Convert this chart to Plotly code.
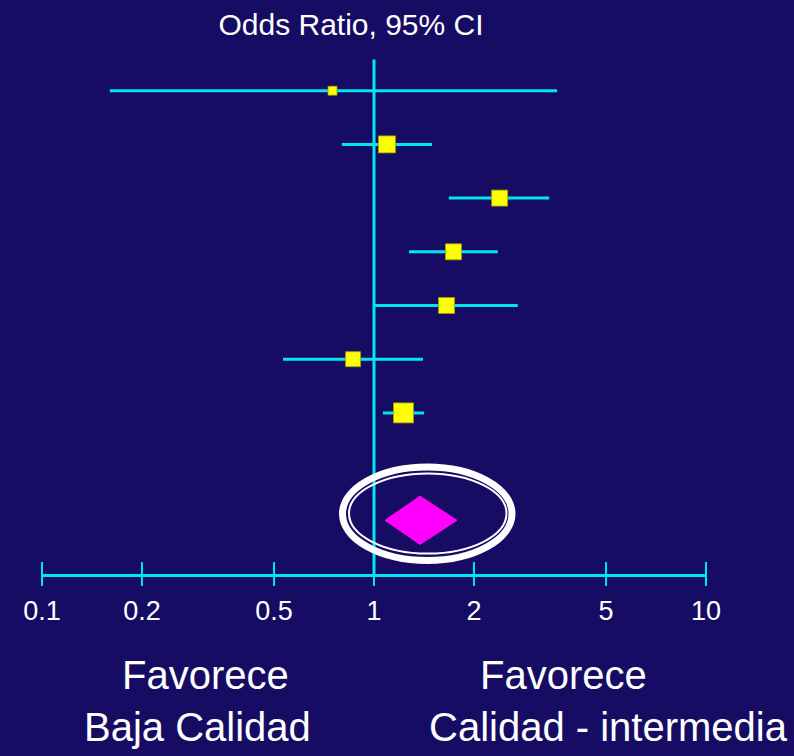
import plotly.graph_objects as go

# ---------------- data ----------------
rows = [1, 2, 3, 4, 5, 6, 7]
or_est = [0.75, 1.094, 2.39, 1.735, 1.654, 0.865, 1.227]
ci_low = [0.16, 0.80, 1.68, 1.275, 1.0, 0.532, 1.064]
ci_high = [3.56, 1.495, 3.37, 2.36, 2.71, 1.405, 1.414]
weights = [9, 17, 16, 16, 16, 15, 20]

pooled_row = 9
pooled_est = 1.376
pooled_low = 1.079
pooled_high = 1.778

tick_vals = [0.1, 0.2, 0.5, 1, 2, 5, 10]
tick_text = ["0.1", "0.2", "0.5", "1", "2", "5", "10"]

title_text = "Odds Ratio, 95% CI"
left_label = ["Favorece", "Baja Calidad"]
right_label = ["Favorece", "Calidad - intermedia"]

# ---------------- style ----------------
BG = "#170c64"
CYAN = "#00e6f0"
YELLOW = "#ffff00"
MAGENTA = "#ff00ff"
FONT = "Liberation Sans, Arial, Helvetica, sans-serif"

W, H = 794, 756
ML, MR, MT, MB = 42, 88, 37, 182
PW, PH = W - ML - MR, H - MT - MB
Y_BOTTOM = 10      # axis line row
Y_TOP = 0
REF_TOP = 0.42     # top of the vertical reference line
DIAMOND_HALF = 0.45


def px_x(px):
    return (px - ML) / PW


def px_y(py):
    return (H - MB - py) / PH


fig = go.Figure()

# vertical line of no effect
fig.add_trace(go.Scatter(
    x=[1, 1], y=[REF_TOP, Y_BOTTOM], mode="lines",
    line=dict(color=CYAN, width=3), hoverinfo="skip", showlegend=False))

# study estimates with CIs
fig.add_trace(go.Scatter(
    x=or_est, y=rows, mode="markers",
    marker=dict(symbol="square", size=weights, color=YELLOW, opacity=1,
                line=dict(color="#a0a000", width=0.8)),
    error_x=dict(type="data", symmetric=False,
                 array=[h - e for h, e in zip(ci_high, or_est)],
                 arrayminus=[e - l for e, l in zip(or_est, ci_low)],
                 color=CYAN, thickness=3, width=0),
    opacity=1, showlegend=False))

# pooled diamond
fig.add_trace(go.Scatter(
    x=[pooled_low, pooled_est, pooled_high, pooled_est, pooled_low],
    y=[pooled_row, pooled_row - DIAMOND_HALF, pooled_row,
       pooled_row + DIAMOND_HALF, pooled_row],
    mode="lines", fill="toself", fillcolor=MAGENTA,
    line=dict(color=MAGENTA, width=1), showlegend=False, hoverinfo="skip"))

# tick marks crossing the axis line
fig.add_trace(go.Scatter(
    x=tick_vals, y=[Y_BOTTOM] * len(tick_vals), mode="markers",
    marker=dict(symbol="line-ns", size=17, line=dict(color=CYAN, width=2)),
    cliponaxis=False, showlegend=False, hoverinfo="skip"))

# highlight ellipse around pooled estimate
fig.add_shape(type="circle", xref="paper", yref="paper",
              x0=px_x(342.5), x1=px_x(512), y0=px_y(560.5), y1=px_y(467),
              line=dict(color="white", width=7), layer="above")
fig.add_shape(type="circle", xref="paper", yref="paper",
              x0=px_x(349), x1=px_x(506.5), y0=px_y(553.5), y1=px_y(473.5),
              line=dict(color="white", width=2), layer="above")

annotations = [
    dict(text=left_label[0], x=px_x(205), y=px_y(675)),
    dict(text=left_label[1], x=px_x(197), y=px_y(727)),
    dict(text=right_label[0], x=px_x(563), y=px_y(675)),
    dict(text=right_label[1], x=px_x(608), y=px_y(727)),
]
for a in annotations:
    fig.add_annotation(text=a["text"], x=a["x"], y=a["y"], xref="paper", yref="paper",
                       xanchor="center", yanchor="middle", showarrow=False,
                       font=dict(family=FONT, size=40, color="white"))

fig.update_layout(
    width=W, height=H,
    margin=dict(l=ML, r=MR, t=MT, b=MB),
    paper_bgcolor=BG, plot_bgcolor=BG,
    title=dict(text=title_text, x=351 / W, xanchor="center",
               y=1 - 24 / H, yanchor="middle",
               font=dict(family=FONT, size=30, color="white")),
    xaxis=dict(type="log", range=[-1, 1], tickvals=tick_vals, ticktext=tick_text,
               showline=True, linecolor=CYAN, linewidth=3, ticks="",
               showgrid=False, zeroline=False,
               tickfont=dict(family=FONT, size=27, color="white"),
               ticklabelstandoff=11),
    yaxis=dict(range=[Y_BOTTOM, Y_TOP], visible=False, showgrid=False, zeroline=False),
    showlegend=False,
)

fig.write_html("out.html",
               config={"displayModeBar": False},
               post_script="document.body.style.margin='0px';"
                           "document.body.style.padding='0px';"
                           "document.body.style.background='" + BG + "';")
